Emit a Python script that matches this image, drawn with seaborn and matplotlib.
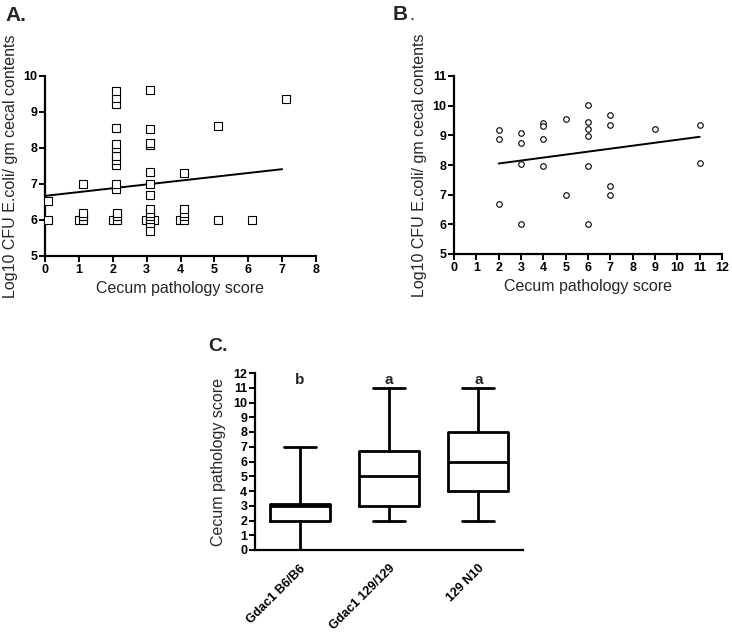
import matplotlib
matplotlib.use("Agg")
import matplotlib.pyplot as plt
import numpy as np
import pandas as pd
import seaborn as sns

# Panel A: cecum score (as plotted, slightly jittered) vs log10 CFU
A_SCORE = [0.1, 0.1,
           1.0, 1.12, 1.12, 1.12, 1.12,
           2.0, 2.12, 2.12, 2.12, 2.1, 2.1, 2.1, 2.1, 2.1, 2.1, 2.1, 2.1, 2.1, 2.1, 2.1,
           2.97, 3.23, 3.1, 3.1, 3.1, 3.1, 3.1, 3.1, 3.1, 3.1, 3.1, 3.1, 3.1, 3.1, 3.1, 3.1,
           3.98, 4.1, 4.1, 4.1, 4.1, 4.1,
           5.1, 5.1,
           6.1,
           7.1]
A_CFU = [6.0, 6.52,
         6.0, 6.0, 6.1, 6.2, 7.0,
         6.0, 6.0, 6.1, 6.2, 6.87, 7.0, 7.53, 7.68, 7.78, 8.0, 8.1, 8.55, 9.22, 9.4, 9.58,
         6.0, 6.0, 6.0, 6.1, 6.2, 6.3, 5.9, 5.8, 5.7, 6.7, 7.0, 7.32, 8.07, 8.15, 8.53, 9.6,
         6.0, 6.0, 6.1, 6.2, 6.3, 7.3,
         6.0, 8.62,
         6.0,
         9.35]
A_FIT = (6.67, 0.106)  # intercept, slope of the drawn regression line

# Panel B
B_SCORE = [2, 2, 2, 3, 3, 3, 3, 4, 4, 4, 4, 5, 5,
           6, 6, 6, 6, 6, 6, 7, 7, 7, 7, 9, 11, 11]
B_CFU = [9.18, 8.87, 6.67, 9.09, 8.75, 8.02, 6.0, 9.4, 9.3, 8.87, 7.98, 9.54, 7.0,
         10.01, 9.45, 9.2, 8.99, 7.97, 6.0, 9.7, 9.35, 7.3, 7.0, 9.22, 9.36, 8.08]
B_FIT = (7.85, 0.1)

# Panel C: box summaries
C_GROUPS = ["Gdac1 B6/B6", "Gdac1 129/129", "129 N10"]
C_MIN = [0, 2, 2]
C_Q1 = [2, 3, 4]
C_MED = [3, 5, 6]
C_Q3 = [3.1, 6.7, 8]
C_MAX = [7, 11, 11]
C_LETTERS = ["b", "a", "a"]

sns.set_style("ticks")
plt.rcParams["font.family"] = ["Liberation Sans", "DejaVu Sans"]

fig = plt.figure(figsize=(7.32, 6.32), dpi=100)
W, H = 732, 632


def px_axes(left, top, right, bottom):
    return fig.add_axes([left / W, 1 - bottom / H, (right - left) / W, (bottom - top) / H])


def style(ax):
    sns.despine(ax=ax)
    for s in ["left", "bottom"]:
        ax.spines[s].set_linewidth(1.6)
        ax.spines[s].set_color("black")
    ax.tick_params(direction="out", length=4, width=1.4, labelsize=9, pad=1.5, colors="black")
    for lab in ax.get_xticklabels() + ax.get_yticklabels():
        lab.set_fontweight("bold")


def scatter_panel(ax, score, cfu, fit, marker, size, xmax, ymin, ymax):
    df = pd.DataFrame({"score": score, "cfu": cfu})
    sns.scatterplot(data=df, x="score", y="cfu", ax=ax, marker=marker, s=size,
                    facecolor="white", edgecolor="black", linewidth=0.8, zorder=3)
    xs = np.array([round(min(score)), round(max(score))])
    ax.plot(xs, fit[0] + fit[1] * xs, color="black", lw=1.4, zorder=2)
    ax.set_xlim(0, xmax)
    ax.set_ylim(ymin, ymax)
    ax.set_xticks(range(0, xmax + 1))
    ax.set_yticks(range(ymin, ymax + 1))
    ax.set_xlabel("Cecum pathology score", fontsize=11.5, labelpad=4)
    ax.set_ylabel("Log10 CFU E.coli/ gm cecal contents", fontsize=11.5, labelpad=4)
    style(ax)


axA = px_axes(45, 76, 316, 256)
scatter_panel(axA, A_SCORE, A_CFU, A_FIT, "s", 30, 8, 5, 10)

axB = px_axes(454, 76, 722, 254)
scatter_panel(axB, B_SCORE, B_CFU, B_FIT, "o", 16, 12, 5, 11)

axC = px_axes(255, 373, 523, 550)
stats = [{"whislo": lo, "q1": q1, "med": md, "q3": q3, "whishi": hi, "fliers": []}
         for lo, q1, md, q3, hi in zip(C_MIN, C_Q1, C_MED, C_Q3, C_MAX)]
lw = 2.0
axC.bxp(stats, positions=range(len(C_GROUPS)), widths=0.67, showfliers=False,
        boxprops=dict(lw=lw, color="black"), medianprops=dict(lw=lw, color="black"),
        whiskerprops=dict(lw=lw, color="black"), capprops=dict(lw=lw, color="black"),
        capwidths=0.36)
for i, letter in enumerate(C_LETTERS):
    axC.text(i, 11.55, letter, ha="center", va="center", fontsize=11, fontweight="bold")
axC.set_xlim(-0.5, 2.5)
axC.set_ylim(0, 12)
axC.set_yticks(range(0, 13))
axC.set_xticks(range(len(C_GROUPS)))
axC.set_xticklabels(C_GROUPS, rotation=45, ha="right", rotation_mode="anchor")
axC.set_ylabel("Cecum pathology score", fontsize=11.5, labelpad=5)
style(axC)
axC.tick_params(axis="x", length=0, pad=9)

fig.text(5 / W, 1 - 21 / H, "A.", fontsize=15, fontweight="bold", va="baseline", ha="left")
fig.text(393 / W, 1 - 20 / H, "B", fontsize=15, fontweight="bold", va="baseline", ha="left")
fig.text(409 / W, 1 - 20 / H, ".", fontsize=13, va="baseline", ha="left")
fig.text(208 / W, 1 - 351 / H, "C.", fontsize=14, fontweight="bold", va="baseline", ha="left")

fig.savefig("out.png", dpi=100)
